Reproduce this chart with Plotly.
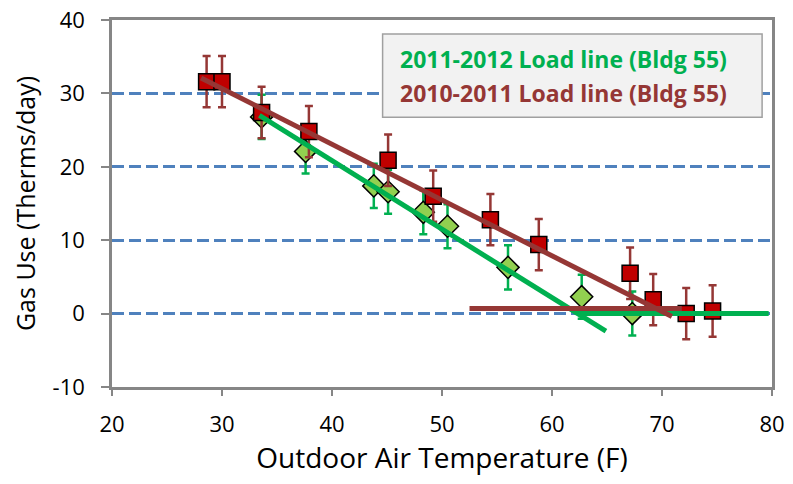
import plotly.graph_objects as go

# 2010-2011 season (red squares)
temp_1011 = [28.6, 30.0, 33.6, 37.9, 45.1, 49.2, 54.4, 58.8, 67.1, 69.2, 72.2, 74.6]
gas_1011 = [31.6, 31.6, 27.4, 24.8, 20.9, 16.0, 12.8, 9.4, 5.5, 1.9, 0.0, 0.35]
err_1011 = 3.5

# 2011-2012 season (green diamonds)
temp_1112 = [33.6, 37.6, 43.8, 45.1, 48.3, 50.5, 56.0, 62.7, 67.3]
gas_1112 = [26.8, 22.1, 17.4, 16.6, 13.8, 11.9, 6.3, 2.3, 0.0]
err_1112 = 3.0

# load lines
green_slope_x = [33.4, 64.9]
green_slope_y = [27.0, -2.4]
green_flat_x = [62.3, 79.7]
green_flat_y = [0, 0]
red_slope_x = [28.1, 70.9]
red_slope_y = [32.1, -0.4]
red_flat_x = [52.5, 71.8]
red_flat_y = [0.7, 0.7]

x_ticks = [20, 30, 40, 50, 60, 70, 80]
y_ticks = [-10, 0, 10, 20, 30, 40]
y_tick_text = ["-10", "0", "10", "20", "30", "40"]

labels = ["2011-2012 Load line (Bldg 55)", "2010-2011 Load line (Bldg 55)"]

GREEN = "#00B050"
RED_LINE = "#953735"
FONT = "Open Sans"

fig = go.Figure()

fig.add_trace(go.Scatter(
    x=temp_1112, y=gas_1112, mode="markers",
    marker=dict(symbol="diamond", size=17, color="#92D050", line=dict(color="black", width=1.5)),
    error_y=dict(type="constant", value=err_1112, color=GREEN, thickness=2.5, width=4),
))
fig.add_trace(go.Scatter(
    x=temp_1011, y=gas_1011, mode="markers",
    marker=dict(symbol="square", size=16, color="#C00000", line=dict(color="black", width=1.5)),
    error_y=dict(type="constant", value=err_1011, color=RED_LINE, thickness=2.5, width=4),
))

fig.add_trace(go.Scatter(x=green_slope_x, y=green_slope_y, mode="lines", line=dict(color=GREEN, width=5)))
fig.add_trace(go.Scatter(x=green_flat_x, y=green_flat_y, mode="lines", line=dict(color=GREEN, width=5)))
fig.add_trace(go.Scatter(x=red_slope_x, y=red_slope_y, mode="lines", line=dict(color=RED_LINE, width=5)))
fig.add_trace(go.Scatter(x=red_flat_x, y=red_flat_y, mode="lines", line=dict(color=RED_LINE, width=5)))

# legend box
fig.add_shape(type="rect", xref="paper", yref="paper", x0=0.41, x1=0.985, y0=0.735, y1=0.962,
              fillcolor="#F2F2F2", line=dict(color="#A0A0A0", width=1.5), layer="above")
fig.add_annotation(xref="paper", yref="paper", x=0.434, y=0.893, xanchor="left", yanchor="middle",
                   text="<b>" + labels[0] + "</b>", showarrow=False,
                   font=dict(family=FONT, size=23, color=GREEN))
fig.add_annotation(xref="paper", yref="paper", x=0.434, y=0.80, xanchor="left", yanchor="middle",
                   text="<b>" + labels[1] + "</b>", showarrow=False,
                   font=dict(family=FONT, size=23, color=RED_LINE))

# page body has an 8px margin on every side, so the figure is 16px smaller than the window
fig.update_layout(
    width=777, height=468,
    margin=dict(l=104, r=13, t=12, b=89),
    paper_bgcolor="white", plot_bgcolor="white",
    showlegend=False,
    font=dict(family=FONT, color="black"),
)
fig.update_xaxes(
    range=[20, 80], tickvals=x_ticks, showgrid=False, zeroline=False, automargin=False,
    showline=True, linecolor="#868686", linewidth=2.5, mirror=True,
    ticks="outside", ticklen=6, tickcolor="#868686", tickwidth=1.5,
    tickfont=dict(size=22, color="black"), ticklabelstandoff=10, ticklabeloverflow="allow",
    title=dict(text="Outdoor Air Temperature (F)", font=dict(size=28, color="black"), standoff=28),
)
fig.update_yaxes(
    range=[-10, 40], tickvals=y_ticks, ticktext=y_tick_text, zeroline=False, automargin=False,
    showgrid=True, gridcolor="#4F81BD", gridwidth=2.5, griddash="12px,5px",
    showline=True, linecolor="#868686", linewidth=2.5, mirror=True,
    ticks="outside", ticklen=8, tickcolor="#868686", tickwidth=1.5,
    tickfont=dict(size=22, color="black"), ticklabelstandoff=12, ticklabeloverflow="allow",
    title=dict(text="Gas Use (Therms/day)", font=dict(size=25, color="black"), standoff=12),
)

fig.write_html("out.html")
